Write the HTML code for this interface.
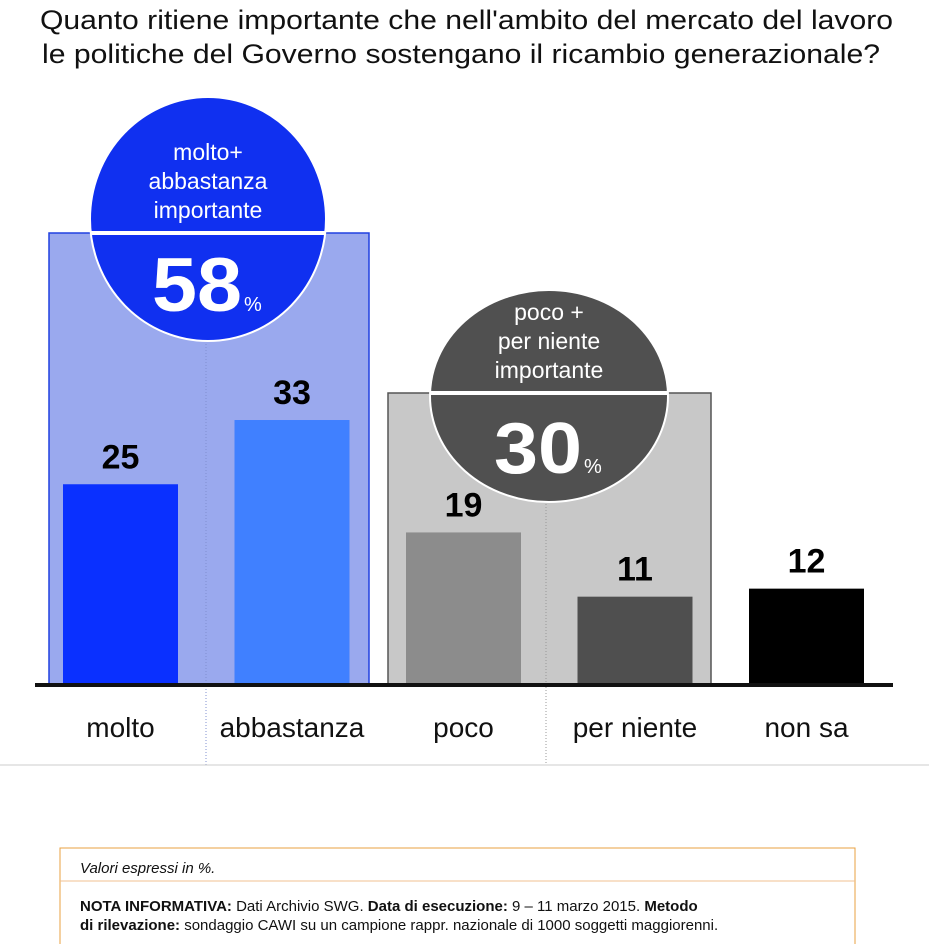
<!DOCTYPE html>
<html><head><meta charset="utf-8"><style>
body{margin:0;background:#fff;width:929px;height:944px;overflow:hidden;font-family:"Liberation Sans",sans-serif}
svg text{font-family:"Liberation Sans",sans-serif}
</style></head><body>
<svg width="929" height="944">
<text x="40" y="29" font-size="27" fill="#111" textLength="853" lengthAdjust="spacingAndGlyphs">Quanto ritiene importante che nell'ambito del mercato del lavoro</text>
<text x="42" y="63" font-size="27" fill="#111" textLength="838" lengthAdjust="spacingAndGlyphs">le politiche del Governo sostengano il ricambio generazionale?</text>
<rect x="49" y="233" width="320" height="452" fill="#9aa9ee" stroke="#2040e0" stroke-width="1.5"/>
<rect x="388" y="393" width="323" height="292" fill="#c8c8c8" stroke="#555" stroke-width="1.5"/>
<line x1="206" y1="233" x2="206" y2="765" stroke="#8090d0" stroke-dasharray="1,2"/>
<line x1="546" y1="393" x2="546" y2="765" stroke="#999" stroke-dasharray="1,2"/>
<line x1="0" y1="765" x2="929" y2="765" stroke="#ccc"/>
<g id="bars"></g>
<line x1="35" y1="685" x2="893" y2="685" stroke="#111" stroke-width="4"/>
<g>
<ellipse cx="208" cy="219" rx="118" ry="122" fill="#1030f0" stroke="#fff" stroke-width="2"/>
<line x1="90" y1="233" x2="326" y2="233" stroke="#fff" stroke-width="4"/>
<text x="208" y="160" text-anchor="middle" font-size="23" fill="#fff">molto+</text>
<text x="208" y="189" text-anchor="middle" font-size="23" fill="#fff">abbastanza</text>
<text x="208" y="218" text-anchor="middle" font-size="23" fill="#fff">importante</text>
<text x="152" y="311" font-size="76" font-weight="bold" fill="#fff" textLength="90" lengthAdjust="spacingAndGlyphs">58</text>
<text x="244" y="311" font-size="20" fill="#fff">%</text>
</g>
<g>
<ellipse cx="549" cy="396" rx="119" ry="106" fill="#505050" stroke="#fff" stroke-width="2"/>
<line x1="430" y1="393" x2="668" y2="393" stroke="#fff" stroke-width="4"/>
<text x="549" y="320" text-anchor="middle" font-size="23" fill="#fff">poco +</text>
<text x="549" y="349" text-anchor="middle" font-size="23" fill="#fff">per niente</text>
<text x="549" y="378" text-anchor="middle" font-size="23" fill="#fff">importante</text>
<text x="494" y="473" font-size="72" font-weight="bold" fill="#fff" textLength="88" lengthAdjust="spacingAndGlyphs">30</text>
<text x="584" y="473" font-size="20" fill="#fff">%</text>
</g>
<g id="labels"></g>
<rect x="60" y="848" width="795" height="110" fill="#fff" stroke="#e8a040"/>
<line x1="60" y1="881" x2="855" y2="881" stroke="#f0c090"/>
<text x="80" y="873" font-size="15" font-style="italic" fill="#111">Valori espressi in %.</text>
<text x="80" y="911" font-size="15" fill="#111"><tspan font-weight="bold">NOTA INFORMATIVA:</tspan> Dati Archivio SWG. <tspan font-weight="bold">Data di esecuzione:</tspan> 9 – 11 marzo 2015. <tspan font-weight="bold">Metodo</tspan></text>
<text x="80" y="930" font-size="15" fill="#111"><tspan font-weight="bold">di rilevazione:</tspan> sondaggio CAWI su un campione rappr. nazionale di 1000 soggetti maggiorenni.</text>
</svg>
<script>
const categories=["molto","abbastanza","poco","per niente","non sa"];
const values=[25,33,19,11,12];
const colors=["#0a30ff","#4080ff","#8c8c8c","#4f4f4f","#000000"];
const base=685, scale=8.03, x0=63, step=171.5, bw=115;
function xPos(i){return x0+i*step;}
function yPos(v){return base-v*scale;}
const ns="http://www.w3.org/2000/svg";
const g=document.getElementById("bars"), lg=document.getElementById("labels");
categories.forEach((c,i)=>{
 const r=document.createElementNS(ns,"rect");
 r.setAttribute("x",xPos(i));r.setAttribute("y",yPos(values[i]));
 r.setAttribute("width",bw);r.setAttribute("height",base-yPos(values[i]));
 r.setAttribute("fill",colors[i]);
 
 
 g.appendChild(r);
 const t=document.createElementNS(ns,"text");
 t.setAttribute("x",xPos(i)+bw/2);t.setAttribute("y",yPos(values[i])-16);
 t.setAttribute("text-anchor","middle");t.setAttribute("font-size","34");t.setAttribute("font-weight","bold");
 t.textContent=values[i];
 
 
 lg.appendChild(t);
 const l=document.createElementNS(ns,"text");
 l.setAttribute("x",xPos(i)+bw/2);l.setAttribute("y",737);
 l.setAttribute("text-anchor","middle");l.setAttribute("font-size","28");l.setAttribute("fill","#111");
 l.textContent=c;
 
 
 lg.appendChild(l);
});
</script>
</body></html>
